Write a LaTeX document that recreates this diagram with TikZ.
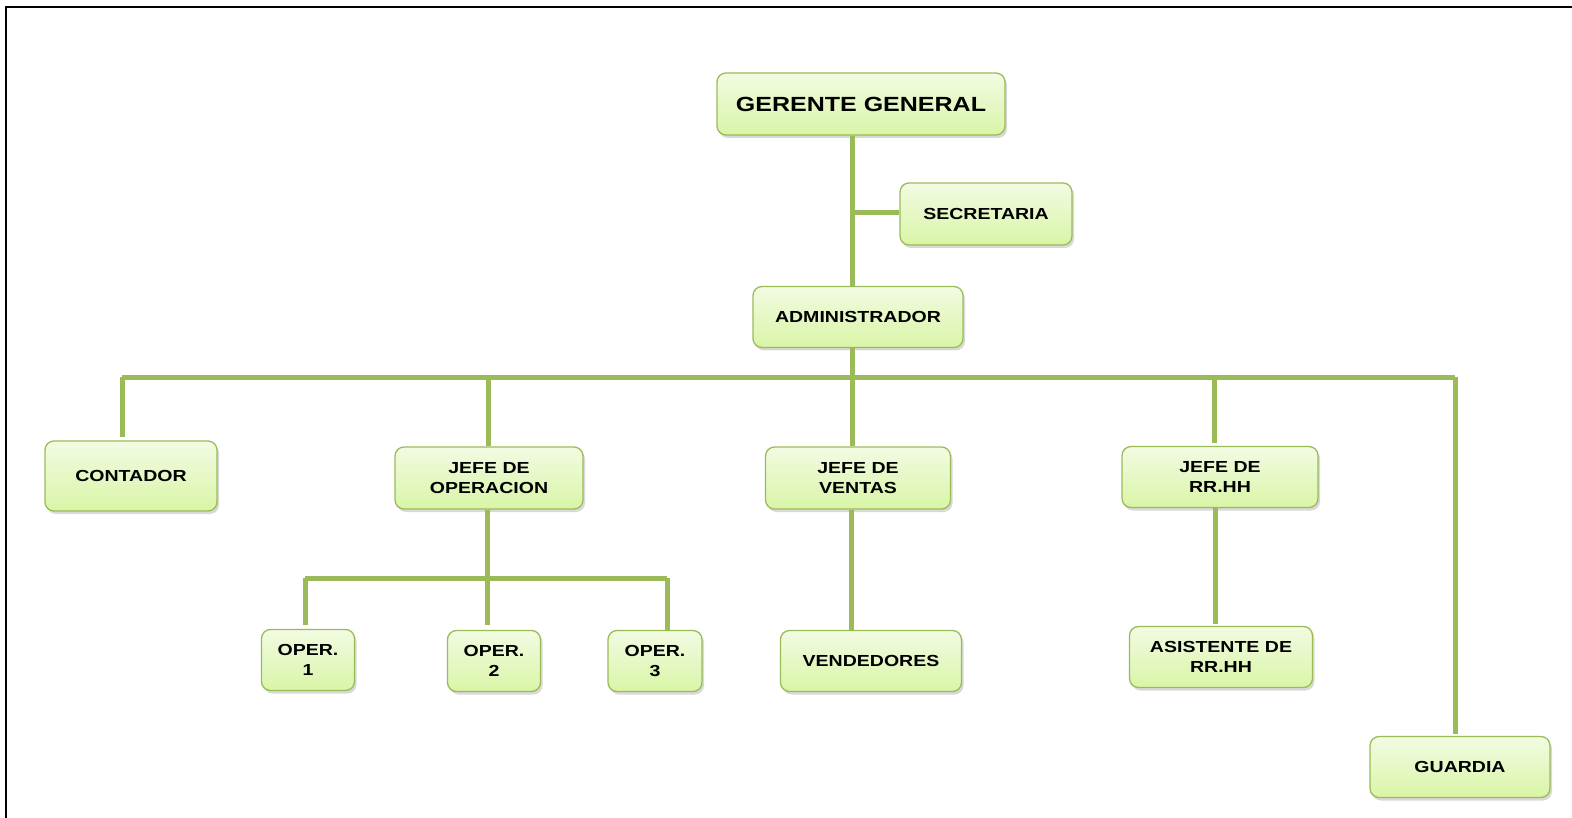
\documentclass[tikz,border=0pt]{standalone}
\usepackage{fontspec}
\setmainfont{Liberation Sans}[FakeStretch=1.22]
\usetikzlibrary{shadows}
\definecolor{linegreen}{HTML}{9BBB59}
\definecolor{topgreen}{HTML}{F2FBE3}
\definecolor{botgreen}{HTML}{D9F5A6}
\tikzset{
    cargo/.style={draw=linegreen, line width=1.3pt, rounded corners=9pt,
        top color=topgreen, bottom color=botgreen, align=center,
        font=\fontsize{16}{19.5}\selectfont\bfseries, inner sep=0pt,
        drop shadow={opacity=0.3, shadow xshift=2pt, shadow yshift=-3pt}},
    enlace/.style={draw=linegreen, line width=5pt}
}

\begin{document}
\begin{tikzpicture}[x=1pt, y=-1pt]
        \useasboundingbox (0, 0) rectangle (1572, 818);
        % Frame
        \draw [line width=2.5pt] (6, 820) -- (6, 7) -- (1574, 7);
        % Boxes
        \node [cargo, minimum width=288, minimum height=62, font=\fontsize{20.5}{24}\selectfont\bfseries] (gerente) at (861, 104) {GERENTE GENERAL};
        \node [cargo, minimum width=172, minimum height=62] (secretaria) at (986, 214) {SECRETARIA};
        \node [cargo, minimum width=210, minimum height=61] (admin) at (858, 317) {ADMINISTRADOR};
        \node [cargo, minimum width=172, minimum height=70] (contador) at (131, 476) {CONTADOR};
        \node [cargo, minimum width=188, minimum height=62] (jefeop) at (489, 478) {JEFE DE\\OPERACION};
        \node [cargo, minimum width=185, minimum height=62] (jefeventas) at (858, 478) {JEFE DE\\VENTAS};
        \node [cargo, minimum width=196, minimum height=61] (jeferh) at (1220, 477) {JEFE DE\\RR.HH};
        \node [cargo, minimum width=93, minimum height=61] (oper1) at (308, 660) {OPER.\\1};
        \node [cargo, minimum width=93, minimum height=61] (oper2) at (494, 661) {OPER.\\2};
        \node [cargo, minimum width=94, minimum height=61] (oper3) at (655, 661) {OPER.\\3};
        \node [cargo, minimum width=181, minimum height=61] (vendedores) at (871, 661) {VENDEDORES};
        \node [cargo, minimum width=183, minimum height=61] (asistente) at (1221, 657) {ASISTENTE DE\\RR.HH};
        \node [cargo, minimum width=180, minimum height=61] (guardia) at (1460, 767) {GUARDIA};
        % Bus points
        \coordinate (busL) at (122, 377);
        \coordinate (busR) at (1455, 377);
        \coordinate (operL) at (305, 578);
        \coordinate (operR) at (667, 578);
        % Lines
        \draw [enlace] (gerente.south -| 852, 0) -- (admin.north -| 852, 0);
        \draw [enlace] (852, 213) -- (secretaria.west |- 852, 213);
        \draw [enlace] (admin.south -| 852, 0) -- (jefeventas.north -| 852, 0);
        \draw [enlace] (busL) -- (busR);
        \draw [enlace] (busL) -- ([yshift=3pt] busL |- contador.north);
        \draw [enlace] (busL -| 488, 0) -- (jefeop.north -| 488, 0);
        \draw [enlace] (busL -| 1214, 0) -- ([yshift=3pt] jeferh.north -| 1214, 0);
        \draw [enlace] (busR) -- ([yshift=2pt] busR |- guardia.north);
        \draw [enlace] (jefeop.south -| 487, 0) -- (operL -| 487, 0);
        \draw [enlace] (operL) -- (operR);
        \draw [enlace] (operL) -- ([yshift=4pt] operL |- oper1.north);
        \draw [enlace] (operL -| 487, 0) -- ([yshift=5pt] oper2.north -| 487, 0);
        \draw [enlace] (operR) -- (operR |- oper3.north);
        \draw [enlace] (jefeventas.south -| 851, 0) -- (vendedores.north -| 851, 0);
        \draw [enlace] (jeferh.south -| 1215, 0) -- ([yshift=2pt] asistente.north -| 1215, 0);
    \end{tikzpicture}
\end{document}
